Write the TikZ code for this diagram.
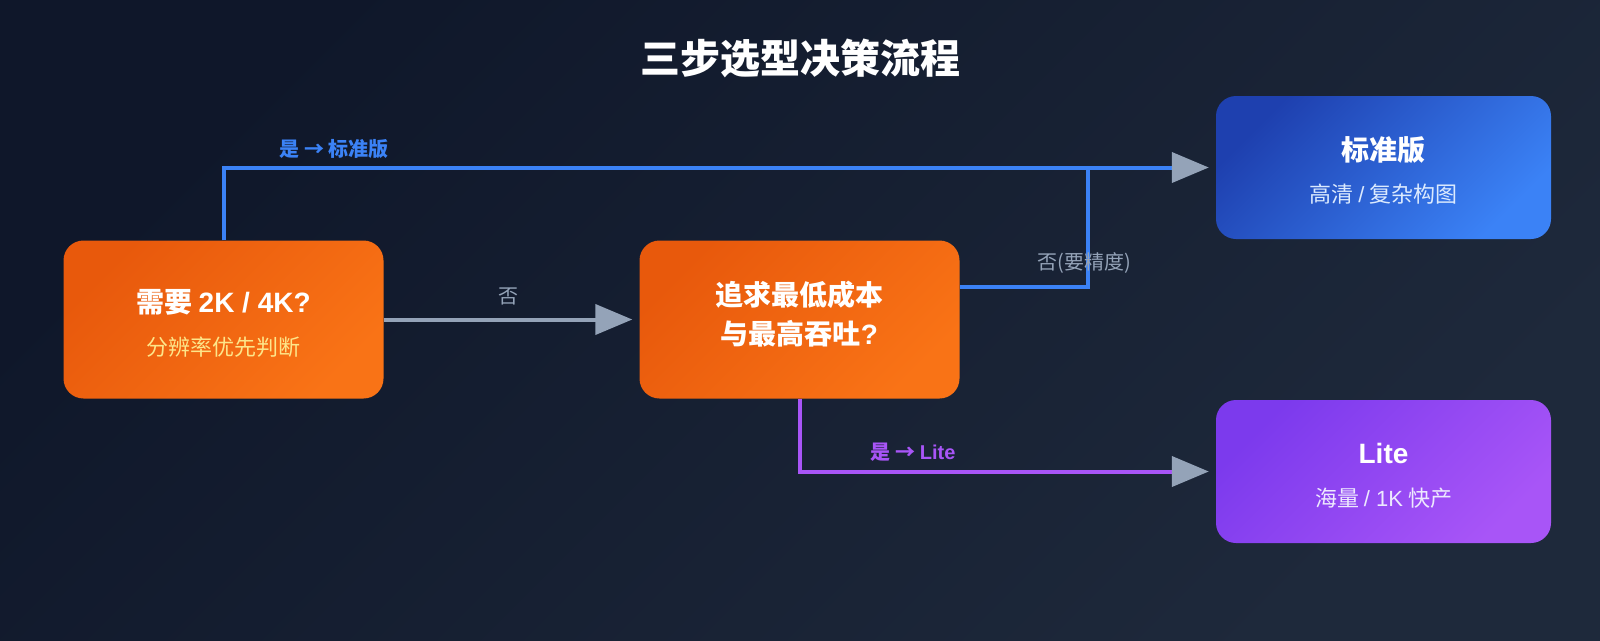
\documentclass[tikz,border=0pt]{standalone}
\usepackage{fontspec}
\setmainfont{Noto Sans CJK SC}
\newfontfamily\lat{Liberation Sans}
\usetikzlibrary{arrows.meta}
\definecolor{bgA}{HTML}{0F172A}
\definecolor{bgB}{HTML}{1E293B}
\definecolor{orA}{HTML}{E8590C}
\definecolor{orB}{HTML}{F97316}
\definecolor{blA}{HTML}{1E40AF}
\definecolor{blB}{HTML}{3B82F6}
\definecolor{puA}{HTML}{7C3AED}
\definecolor{puB}{HTML}{A855F7}
\definecolor{slate}{HTML}{94A3B8}
\definecolor{amber}{HTML}{FDE68A}
\definecolor{paleblue}{HTML}{DBEAFE}
\definecolor{palepurple}{HTML}{EDE9FE}

\begin{document}
\begin{tikzpicture}[x=1pt,y=-1pt,
  box/.style={rounded corners=20pt, minimum width=320pt, minimum height=158pt, inner sep=0pt},
  askbox/.style={box, top color=orA, bottom color=orB, shading angle=45},
  endbox/.style={box, minimum width=335pt, minimum height=143pt, shading angle=45},
  head/.style={text=white, font=\fontsize{28}{34}\selectfont\bfseries},
  sub/.style={font=\fontsize{22}{26}\selectfont},
  link/.style={line width=4pt},
  tip/.style={-{Triangle[length=37pt,width=30pt,color=slate]}, shorten >=7pt},
  lbl/.style={font=\fontsize{20}{24}\selectfont}]
\useasboundingbox (0,0) rectangle (1600,640);
\fill[top color=bgA, bottom color=bgB, shading angle=45] (0,0) rectangle (1600,640);

\node[text=white, font=\fontsize{40}{48}\selectfont\bfseries] (title) at (800,58) {三步选型决策流程};

% boxes
\node[askbox] (v0) at (223.5,319.5) {};
\node[askbox] (v1) at (799.5,319.5) {};
\node[endbox, top color=blA, bottom color=blB, shading angle=45] (v2) at (1383.5,167.5) {};
\node[endbox, top color=puA, bottom color=puB, shading angle=45] (v3) at (1383.5,471.5) {};

% box texts
\node[head] (v0a) at (223.5,302) {需要 {\lat 2K / 4K?}};
\node[sub, text=amber] (v0b) at (223.5,347) {分辨率优先判断};
\node[head] (v1a) at (799.5,295) {追求最低成本};
\node[head] (v1b) at (799.5,334) {与最高吞吐{\lat ?}};
\node[head] (v2a) at (1383.5,150) {标准版};
\node[sub, text=paleblue] (v2b) at (1383.5,194) {高清 {\lat /} 复杂构图};
\node[head] (v3a) at (1383.5,453) {\lat Lite};
\node[sub, text=palepurple] (v3b) at (1383.5,498) {海量 {\lat / 1K} 快产};

% connectors
\coordinate (j) at (1088,167.5);
\draw[link, blB] ([yshift=33pt]v1.east) -| (j);
\draw[link, blB, tip] (v0.north) |- (v2.west);
\draw[link, slate, tip] (v0.east) -- (v1.west);
\draw[link, puB, tip] (v1.south) |- (v3.west);

\node[lbl, text=blB, font=\fontsize{20}{24}\selectfont\bfseries] (l0) at (334,149) {是 → 标准版};
\node[lbl, text=slate] (l1) at (508,296) {否};
\node[lbl, text=slate] (l2) at (1084,263) {否(要精度)};
\node[lbl, text=puB, font=\fontsize{20}{24}\selectfont\bfseries] (l3) at (913,452) {是 → {\lat Lite}};
\end{tikzpicture}
\end{document}
